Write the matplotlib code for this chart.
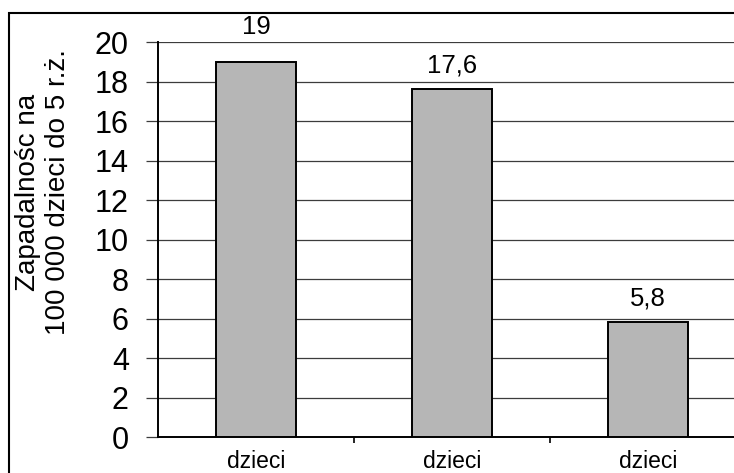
import matplotlib.pyplot as plt
from matplotlib.patches import Rectangle

plt.rcParams['font.family'] = ['Liberation Sans', 'DejaVu Sans']

# dane
categories = ['dzieci', 'dzieci', 'dzieci']
values = [19, 17.6, 5.8]
value_labels = ['19', '17,6', '5,8']
label_offsets = [25, 17, 17]  # w punktach nad słupkiem
y_ticks = [0, 2, 4, 6, 8, 10, 12, 14, 16, 18, 20]
ylabel = 'Zapadalnośc na\n100 000 dzieci do 5 r.ż.'

fig = plt.figure(figsize=(7.34, 4.73), dpi=100)
ax = fig.add_axes([0.2153, 0.0761, 0.801, 0.835])

x = list(range(len(categories)))
ax.bar(x, values, width=0.41, color='#b6b6b6', edgecolor='black', linewidth=1.4, zorder=3)

for xi, v, txt, off in zip(x, values, value_labels, label_offsets):
    ax.annotate(txt, (xi, v), xytext=(0, off), textcoords='offset points',
                ha='center', va='center', fontsize=18.5)

ax.set_xlim(-0.5, len(categories) - 0.5)
ax.set_ylim(0, 20)
ax.set_yticks(y_ticks)
ax.set_yticklabels([str(t) for t in y_ticks], fontsize=22)

# siatka pozioma
ax.grid(True, axis='y', color='#3c3c3c', linewidth=0.9, zorder=0)
ax.set_axisbelow(True)

# znaczniki osi x miedzy kategoriami, podpisy na srodku
ax.set_xticks([i + 0.5 for i in x[:-1]])
ax.set_xticklabels([])
ax.set_xticks(x, minor=True)
ax.set_xticklabels(categories, minor=True, fontsize=16.5)
ax.tick_params(axis='x', which='major', length=4, width=1.2, direction='out')
ax.tick_params(axis='x', which='minor', length=0, pad=9)
ax.tick_params(axis='y', length=9, width=0.9, color='#3c3c3c', pad=12)

ax.spines['top'].set_visible(False)
ax.spines['right'].set_visible(False)
ax.spines['left'].set_linewidth(1.4)
ax.spines['bottom'].set_linewidth(1.4)

fig.text(43 / 734, 1 - 192 / 473, ylabel, rotation=90, ha='center', va='center',
         fontsize=20, linespacing=1.2)

# ramka zewnetrzna
fig.patches.append(Rectangle((9 / 734, -0.1), 1.2, 1 - 13 / 473 + 0.1,
                             transform=fig.transFigure, fill=False,
                             edgecolor='black', linewidth=1.5))

fig.savefig('out.png', dpi=100)
